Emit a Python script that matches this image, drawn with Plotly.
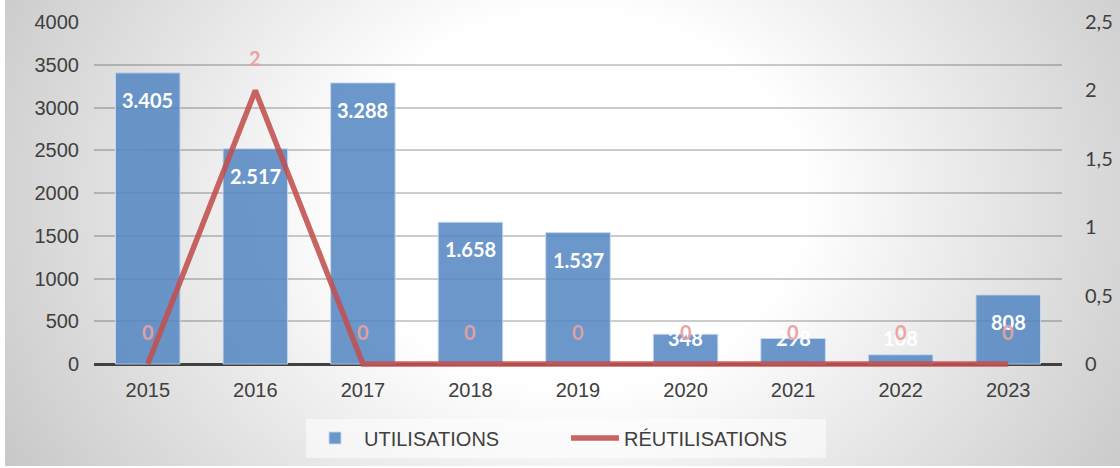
import plotly.graph_objects as go

# ---- data ----
years = ["2015", "2016", "2017", "2018", "2019", "2020", "2021", "2022", "2023"]
utilisations = [3405, 2517, 3288, 1658, 1537, 348, 298, 108, 808]
reutilisations = [0, 2, 0, 0, 0, 0, 0, 0, 0]
left_ticks = [0, 500, 1000, 1500, 2000, 2500, 3000, 3500, 4000]
right_ticks = [0, 0.5, 1, 1.5, 2, 2.5]

W, H = 1120, 468
# plot area in pixels
PX_L, PX_R, PX_T, PX_ZERO, PX_B = 94, 1062, 22, 364, 369
Y2_MAX = 4000
Y3_MAX = 2.5
px_per_u2 = (PX_ZERO - PX_T) / Y2_MAX
px_per_u3 = (PX_ZERO - PX_T) / Y3_MAX
Y2_MIN = -(PX_B - PX_ZERO) / px_per_u2
Y3_MIN = -(PX_B - PX_ZERO) / px_per_u3

BAR_COLOR = "rgba(84,134,194,0.86)"
LINE_COLOR = "rgba(192,80,77,0.88)"
LABEL_PINK = "rgba(232,160,158,0.95)"
AXIS_TXT = "#404040"

fig = go.Figure()

# background gradient (radial) on a full-paper helper subplot
bg_x = [-0.171, 1.193, 1.193, -0.171, -0.171]
bg_y = [-0.759, -0.759, 1.901, 1.901, -0.759]
fig.add_trace(go.Scatter(
    x=bg_x, y=bg_y, xaxis="x", yaxis="y", mode="lines", fill="toself",
    line=dict(width=0, color="rgba(0,0,0,0)"),
    fillgradient=dict(type="radial", colorscale=[
        [0, "#ffffff"], [0.3, "#ffffff"], [0.45, "#f0f0f0"],
        [0.75, "#d3d3d3"], [0.86, "#c8c8c8"], [1, "#c0c0c0"]]),
    hoverinfo="skip", showlegend=False))

fig.add_trace(go.Bar(
    x=years, y=utilisations, name="UTILISATIONS", xaxis="x2", yaxis="y2",
    width=0.6, marker=dict(color=BAR_COLOR, line=dict(color="rgba(200,218,240,0.9)", width=1))))

fig.add_trace(go.Scatter(
    x=years, y=reutilisations, name="RÉUTILISATIONS", xaxis="x2", yaxis="y3",
    mode="lines", line=dict(color=LINE_COLOR, width=5.5)))

annotations = []
LABEL_FLOOR = 620
# category axes place annotations by category index
for i, v in enumerate(utilisations):
    annotations.append(dict(
        x=i, y=max(v, LABEL_FLOOR), xref="x2", yref="y2",
        text=f"{v:,}".replace(",", "."), showarrow=False, yanchor="middle", yshift=-27,
        font=dict(family="Lato", size=20, color="white", weight="bold")))
for i, v in enumerate(reutilisations):
    annotations.append(dict(
        x=i, y=v, xref="x2", yref="y3",
        text=str(v), showarrow=False, yanchor="middle", yshift=32,
        font=dict(family="Lato", size=20, color=LABEL_PINK, weight="bold")))

fig.update_layout(
    template="none",
    width=W, height=H,
    margin=dict(l=0, r=0, t=0, b=0, autoexpand=False),
    paper_bgcolor="white",
    plot_bgcolor="rgba(0,0,0,0)",
    separators=",.",
    showlegend=True,
    xaxis=dict(domain=[5 / W, 1], range=[0, 1], visible=False, fixedrange=True, automargin=False),
    yaxis=dict(domain=[2 / H, 1], range=[0, 1], visible=False, fixedrange=True, automargin=False),
    xaxis2=dict(
        domain=[PX_L / W, PX_R / W], anchor="y2", type="category",
        categoryorder="array", categoryarray=years, range=[-0.5, len(years) - 0.5],
        automargin=False, showgrid=False, showline=False, zeroline=False, ticks="",
        ticklabelstandoff=7,
        tickfont=dict(family="Liberation Sans", size=20, color=AXIS_TXT)),
    yaxis2=dict(
        domain=[1 - PX_B / H, 1 - PX_T / H], anchor="x2", automargin=False,
        range=[Y2_MIN, Y2_MAX], tickvals=left_ticks, ticktext=[str(t) for t in left_ticks],
        showgrid=True, gridcolor="rgba(0,0,0,0.2)", gridwidth=1.5, showline=False,
        zeroline=True, zerolinecolor="#404040", zerolinewidth=3,
        ticks="", ticklabelstandoff=14, layer="below traces",
        tickfont=dict(family="Liberation Sans", size=20, color=AXIS_TXT)),
    yaxis3=dict(
        overlaying="y2", side="right", anchor="x2", automargin=False,
        range=[Y3_MIN, Y3_MAX], tickvals=right_ticks, showline=False,
        showgrid=False, zeroline=False, ticks="", ticklabelstandoff=22,
        tickfont=dict(family="Lato", size=20, color=AXIS_TXT)),
    legend=dict(
        orientation="h", x=566 / W, xanchor="center", y=1 - 438 / H, yanchor="middle",
        bgcolor="rgba(255,255,255,0.55)", font=dict(family="Liberation Sans", size=20, color=AXIS_TXT),
        itemwidth=48, entrywidth=197, traceorder="normal"),
    annotations=annotations,
)

fig.write_html("out.html", config={"displayModeBar": False},
               post_script="document.body.style.margin='0';")
